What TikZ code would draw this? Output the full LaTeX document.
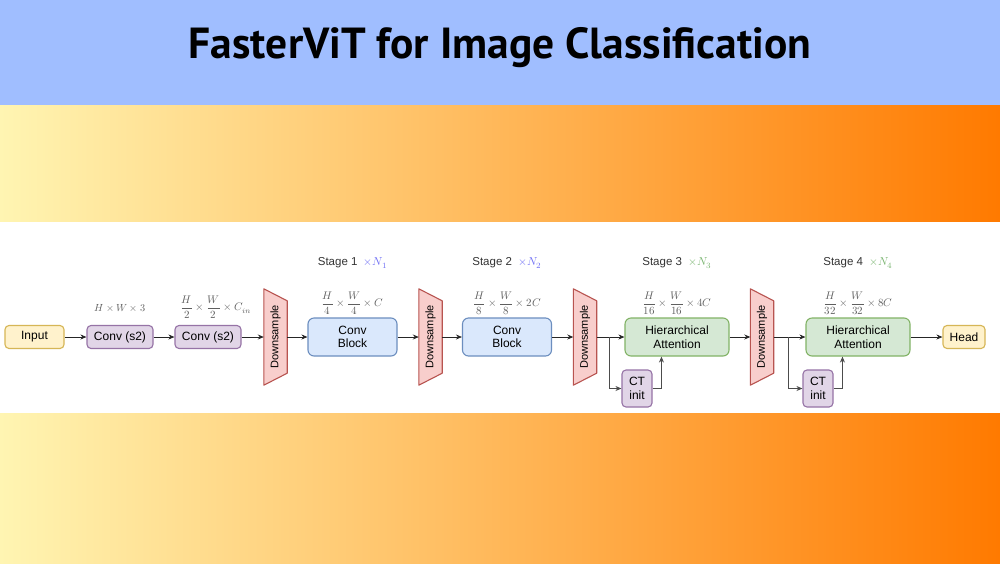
\documentclass[tikz,border=0pt]{standalone}
\usepackage{fontspec}
\setmainfont{Liberation Sans}
\newfontfamily\titlefont{PT Sans}
\usepackage{unicode-math}
\setmathfont{Latin Modern Math}
\usetikzlibrary{arrows.meta,calc}
\pgfdeclarelayer{back}
\pgfdeclarelayer{bg}
\pgfsetlayers{back,bg,main}
\definecolor{bandblue}{RGB}{160,190,255}
\definecolor{gradL}{RGB}{255,245,178}
\definecolor{gradR}{RGB}{255,122,0}
\definecolor{yfill}{RGB}{255,242,204}
\definecolor{ydraw}{RGB}{214,182,86}
\definecolor{pfill}{RGB}{225,213,231}
\definecolor{pdraw}{RGB}{150,115,166}
\definecolor{bfill}{RGB}{218,232,252}
\definecolor{bdraw}{RGB}{108,142,191}
\definecolor{gfill}{RGB}{213,232,212}
\definecolor{gdraw}{RGB}{130,179,102}
\definecolor{rfill}{RGB}{248,206,204}
\definecolor{rdraw}{RGB}{184,84,80}
\definecolor{dimgray}{RGB}{95,95,95}
\definecolor{nblue}{RGB}{110,110,245}
\definecolor{ngreen}{RGB}{120,180,110}
\tikzset{
  box/.style={draw, line width=1.1pt, rounded corners=4pt, align=center, inner sep=0pt, font=\fontsize{12}{13.5}\selectfont},
  smallbox/.style={box, minimum height=23pt},
  inbox/.style={smallbox, fill=yfill, draw=ydraw},
  convbox/.style={smallbox, fill=pfill, draw=pdraw, minimum width=66pt},
  blockbox/.style={box, fill=bfill, draw=bdraw, minimum width=89pt, minimum height=38pt, rounded corners=6pt},
  attbox/.style={box, fill=gfill, draw=gdraw, minimum width=104pt, minimum height=38pt, rounded corners=6pt},
  ctbox/.style={box, fill=pfill, draw=pdraw, minimum width=30pt, minimum height=37pt},
  dsbox/.style={inner sep=0pt, minimum width=23pt, minimum height=96pt, font=\fontsize{11}{12}\selectfont},
  dimlabel/.style={text=dimgray, font=\fontsize{10.3}{12}\selectfont, inner sep=0pt},
  fraclabel/.style={dimlabel, font=\fontsize{11}{12}\selectfont},
  stagelabel/.style={text=black!80, font=\fontsize{11.5}{13}\selectfont, inner sep=0pt},
  conn/.style={draw=black!85, line width=0.8pt, -{Stealth[length=6pt,width=5pt]}},
  branch/.style={draw=black!70, line width=0.8pt, -{Stealth[length=6pt,width=5pt]}},
}
\newcommand{\trap}[1]{%
  \path[fill=rfill, draw=rdraw, line width=1.1pt, line join=round]
    (#1.north west) -- ($(#1.north east)+(0,-12pt)$) -- ($(#1.south east)+(0,12pt)$) -- (#1.south west) -- cycle;}
\begin{document}
\begin{tikzpicture}[x=1pt,y=-1pt]
\useasboundingbox (0,0) rectangle (1000,563);
% background bands
\begin{pgfonlayer}{back}
\fill[bandblue] (0,0) rectangle (1000,105);
\shade[left color=gradL, right color=gradR] (0,105) rectangle (1000,222);
\fill[white] (0,222) rectangle (1000,413);
\shade[left color=gradL, right color=gradR] (0,413) rectangle (1000,563);
\end{pgfonlayer}
\node[font=\titlefont\bfseries\fontsize{43.5}{48}\selectfont, inner sep=0pt] (title) at (500,48) {FasterViT for Image Classification};

% nodes
\node[inbox, minimum width=59pt] (input) at (34.5,337) {Input};
\node[convbox] (c1) at (120,337) {Conv (s2)};
\node[convbox] (c2) at (208,337) {Conv (s2)};
\node[dsbox] (d1) at (275.5,337) {\rotatebox{90}{Downsample}};
\node[blockbox] (b1) at (352.5,337) {Conv\\Block};
\node[dsbox] (d2) at (430.5,337) {\rotatebox{90}{Downsample}};
\node[blockbox] (b2) at (507,337) {Conv\\Block};
\node[dsbox] (d3) at (585,337) {\rotatebox{90}{Downsample}};
\node[attbox] (a1) at (677,337) {Hierarchical\\Attention};
\node[ctbox] (t1) at (637,388.5) {CT\\init};
\node[dsbox] (d4) at (762,337) {\rotatebox{90}{Downsample}};
\node[attbox] (a2) at (858,337) {Hierarchical\\Attention};
\node[ctbox] (t2) at (818,388.5) {CT\\init};
\node[inbox, minimum width=42pt] (head) at (964,337) {Head};

\begin{pgfonlayer}{bg}
\trap{d1}\trap{d2}\trap{d3}\trap{d4}
\end{pgfonlayer}

% labels
\node[dimlabel] (l1) at (120,308) {$H\times W\times 3$};
\node[fraclabel] (l2) at (216,307) {$\dfrac{H}{2}\times\dfrac{W}{2}\times C_{in}$};
\node[fraclabel] (l3) at (352.5,303) {$\dfrac{H}{4}\times\dfrac{W}{4}\times C$};
\node[fraclabel] (l4) at (507,303) {$\dfrac{H}{8}\times\dfrac{W}{8}\times 2C$};
\node[fraclabel] (l5) at (677,303) {$\dfrac{H}{16}\times\dfrac{W}{16}\times 4C$};
\node[fraclabel] (l6) at (858,303) {$\dfrac{H}{32}\times\dfrac{W}{32}\times 8C$};
\node[stagelabel] (s1) at (352.5,263) {Stage 1\ \ \textcolor{nblue}{$\times N_1$}};
\node[stagelabel] (s2) at (507,263) {Stage 2\ \ \textcolor{nblue}{$\times N_2$}};
\node[stagelabel] (s3) at (677,263) {Stage 3\ \ \textcolor{ngreen}{$\times N_3$}};
\node[stagelabel] (s4) at (858,263) {Stage 4\ \ \textcolor{ngreen}{$\times N_4$}};

% connectors
\draw[conn] (input) -- (c1);
\draw[conn] (c1) -- (c2);
\draw[conn] (c2) -- (d1);
\draw[conn] (d1) -- (b1);
\draw[conn] (b1) -- (d2);
\draw[conn] (d2) -- (b2);
\draw[conn] (b2) -- (d3);
\draw[conn] (d3) -- (a1);
\coordinate (j1) at (609,337);
\draw[branch] (j1) |- (t1.west);
\draw[branch] (t1.east) -| ($(a1.south west)+(37pt,0)$);
\draw[conn] (a1) -- (d4);
\draw[conn] (d4) -- (a2);
\coordinate (j2) at (788,337);
\draw[branch] (j2) |- (t2.west);
\draw[branch] (t2.east) -| ($(a2.south west)+(37pt,0)$);
\draw[conn] (a2) -- (head);
\end{tikzpicture}
\end{document}
